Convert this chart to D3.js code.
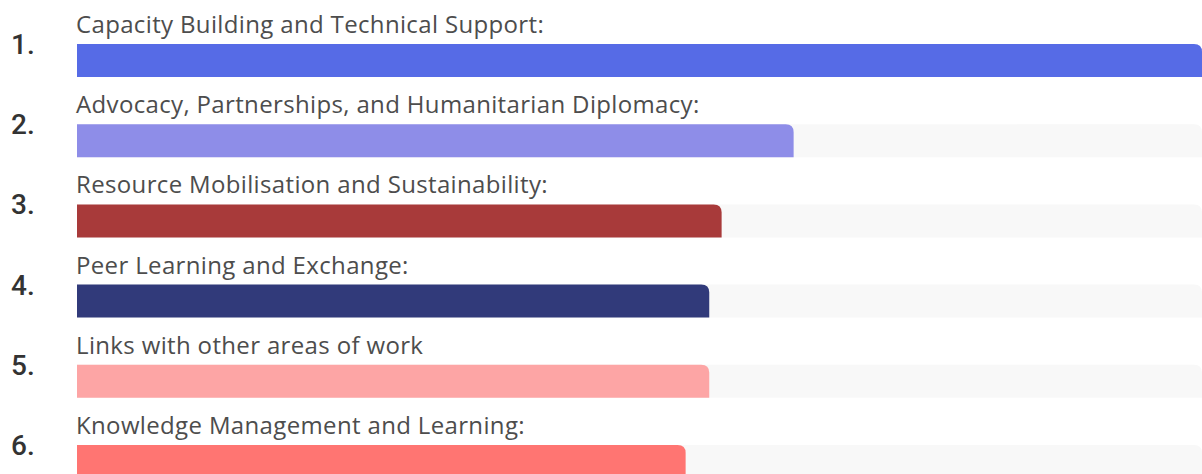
<!DOCTYPE html>
<html>
<head>
<meta charset="utf-8">
<script src="https://cdn.jsdelivr.net/npm/d3@7"></script>
<style>
  html, body { margin: 0; padding: 0; background: #ffffff; }
  svg { display: block; }
</style>
</head>
<body>
<svg id="chart" width="1202" height="474"></svg>
<script>
const categories = [
  "Capacity Building and Technical Support:",
  "Advocacy, Partnerships, and Humanitarian Diplomacy:",
  "Resource Mobilisation and Sustainability:",
  "Peer Learning and Exchange:",
  "Links with other areas of work",
  "Knowledge Management and Learning:"
];
const rankLabels = ["1.", "2.", "3.", "4.", "5.", "6."];
const values = [100, 63.7, 57.3, 56.2, 56.2, 54.1];
const colors = ["#566be6", "#8e8de8", "#a83a3a", "#313a7a", "#fda5a5", "#ff7572"];

const W = 1202, H = 474;
const svg = d3.select("#chart");

const x = d3.scaleLinear().domain([0, 100]).range([77, 1202]);
const y = d3.scalePoint().domain(categories).range([44, 445]);
const barH = 33;
const r = 8;

function topRightRounded(x0, y0, w, h, rad) {
  const rr = Math.min(rad, w, h);
  return `M${x0},${y0} H${x0 + w - rr} Q${x0 + w},${y0} ${x0 + w},${y0 + rr} V${y0 + h} H${x0} Z`;
}

const data = categories.map((c, i) => ({ c, v: values[i], color: colors[i], rank: rankLabels[i] }));

const g = svg.selectAll("g.row").data(data).join("g").attr("class", "row");

// track
g.append("path")
  .attr("d", d => topRightRounded(x(0), y(d.c), x(100) - x(0), barH, r))
  .attr("fill", "#f8f8f8");

// bar
g.append("path")
  .attr("d", d => topRightRounded(x(0), y(d.c), x(d.v) - x(0), barH, r))
  .attr("fill", d => d.color);

// category label
g.append("text")
  .attr("x", x(0) - 1)
  .attr("y", d => y(d.c) - 11)
  .attr("font-family", "'Open Sans', sans-serif")
  .attr("font-size", 24)
  .attr("letter-spacing", 0.35)
  .attr("fill", "#4d4d4d")
  .text(d => d.c);

// rank number
g.append("text")
  .attr("x", 11)
  .attr("y", d => y(d.c) + 10)
  .attr("font-family", "Roboto, 'Liberation Sans', sans-serif")
  .attr("font-weight", 500)
  .attr("font-size", 28)
  .attr("fill", "#333333")
  .text(d => d.rank);
</script>
</body>
</html>
